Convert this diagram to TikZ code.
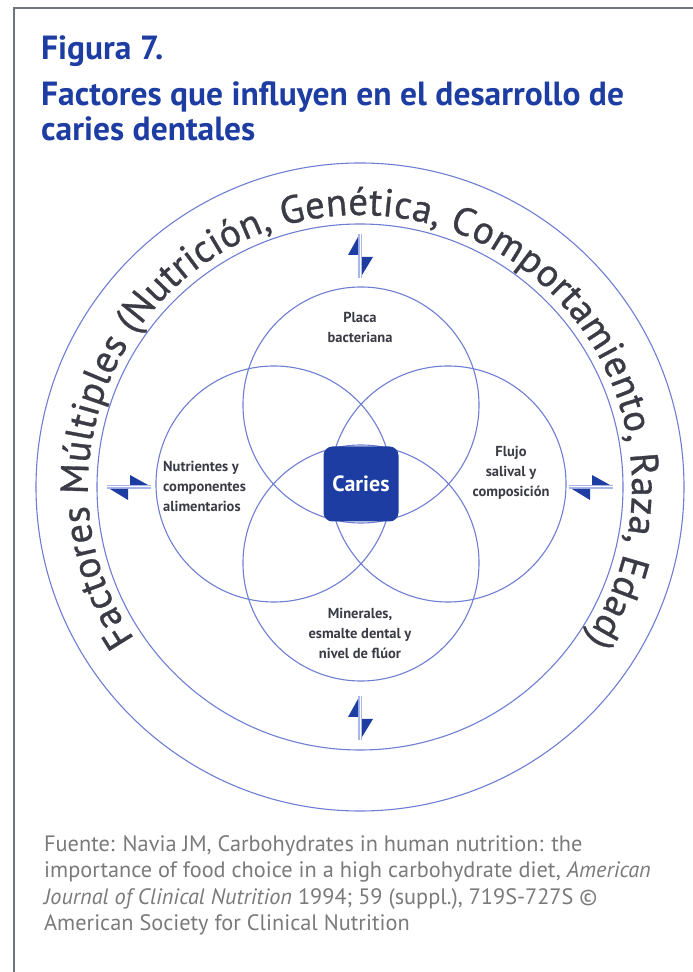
\documentclass[tikz,border=0pt]{standalone}
\usepackage{fontspec}
\setmainfont{PT Sans}
\newfontfamily\anillofont[FakeBold=0.8]{PT Sans}
\usepackage{tikz}
\usetikzlibrary{decorations.text}
\definecolor{azulfig}{HTML}{1E3DA3}
\definecolor{azullinea}{HTML}{6E7ED2}
\definecolor{azulpalido}{HTML}{A9B6E8}
\definecolor{grisoscuro}{HTML}{3A3B45}
\definecolor{grismarco}{HTML}{6F7382}
\definecolor{grisfuente}{HTML}{7A7A7A}

\begin{document}
\begin{tikzpicture}[x=1pt, y=1pt,
    anillo/.style={draw=azullinea, line width=1.1pt},
    venn/.style={circle, draw=azullinea, line width=1.1pt, minimum size=236pt, inner sep=0pt},
    etiq/.style={align=center, font=\fontsize{14.5}{20}\selectfont\bfseries, text=grisoscuro, inner sep=0pt},
    cab/.style={fill=azulfig},
    eje/.style={draw=azulpalido, double=white, double distance=1pt, line width=1.2pt},
    titulo/.style={anchor=base west, font=\fontsize{33.5}{38}\selectfont\bfseries, text=azulfig, inner sep=0pt}
  ]
  \useasboundingbox (0,0) rectangle (693,972);
  % marco
  \draw[grismarco, line width=2.5pt] (14,0) -- (14,964) -- (693,964);
  % titulo
  \node[titulo] (fig) at (41,912) {Figura 7.};
  \node[titulo] (tit1) at (41,866) {Factores que influyen en el desarrollo de};
  \node[titulo] (tit2) at (41,831) {caries dentales};
  % anillos exteriores
  \coordinate (c) at (360,485);
  \draw[anillo] (c) circle[radius=324];
  \draw[anillo] (c) circle[radius=263];
  \path[decorate, decoration={text along path, text align=fit to path,
      text={|\anillofont\fontsize{39}{42}\selectfont\color{grisoscuro}|Factores Múltiples (Nutrición, Genética, Comportamiento, Raza, Edad)}}]
    ([shift={(214:272)}]c) arc[start angle=214, end angle=-34, radius=272];
  % circulos de Venn
  \node[venn] (vplaca) at (361,567) {};
  \node[venn] (vmin) at (361,409) {};
  \node[venn] (vnutri) at (274,488) {};
  \node[venn] (vflujo) at (448,488) {};
  \node[fill=azulfig, rounded corners=9pt, minimum size=75pt, inner sep=0pt, text=white,
        font=\fontsize{22}{24}\selectfont\bfseries] (caries) at (361,488) {Caries};
  \node[etiq] (placa) at (360,645) {Placa\\bacteriana};
  \node[etiq, align=left, anchor=west] (nutri) at (163,486) {Nutrientes y\\componentes\\alimentarios};
  \node[etiq] (flujo) at (511,499) {Flujo\\salival y\\composición};
  \node[etiq] (minerales) at (360,339) {Minerales,\\esmalte dental y\\nivel de flúor};
  % flechas dobles
  \foreach \ang/\rot in {90/0, 270/0, 180/-90, 0/-90} {
    \begin{scope}[shift={(c)}, shift={(\ang:231)}, rotate=\rot]
      \draw[eje] (0,-22) -- (0,22);
      \fill[cab] (-2,19) -- (-12,1) -- (-2,1) -- cycle;
      \fill[cab] (2,-1) -- (13,-1) -- (2,-19) -- cycle;
    \end{scope}
  }
  % fuente
  \node[anchor=north west, align=left, inner sep=0pt, font=\fontsize{22.3}{26.5}\selectfont,
        text=grisfuente] (fuente) at (44,137)
    {Fuente: Navia JM, Carbohydrates in human nutrition: the\\
     importance of food choice in a high carbohydrate diet, \textit{American}\\
     \textit{Journal of Clinical Nutrition} 1994; 59 (suppl.), 719S-727S~©\\
     American Society for Clinical Nutrition};
\end{tikzpicture}
\end{document}
